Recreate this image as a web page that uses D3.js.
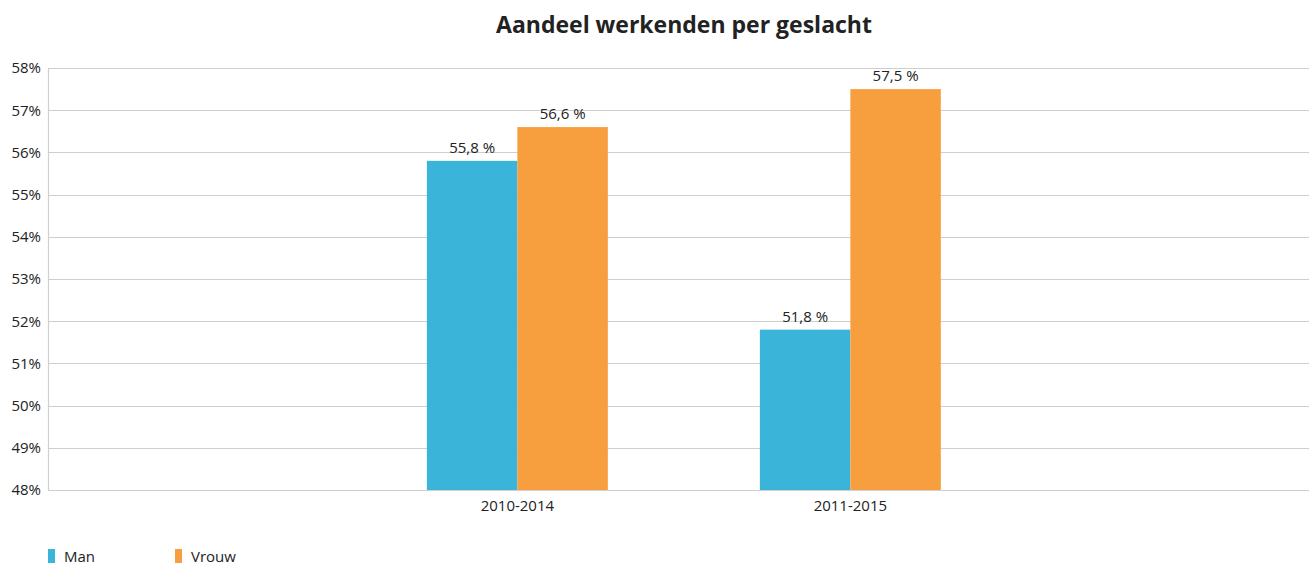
<!DOCTYPE html>
<html><head><meta charset="utf-8">
<script src="https://cdn.jsdelivr.net/npm/d3@7"></script>
<style>
body{margin:0;background:#fff;}
text{font-family:"Open Sans","Noto Sans",sans-serif;fill:#222;}
</style></head>
<body><svg id="c" width="1309" height="565"></svg>
<script>
const categories = ["2010-2014", "2011-2015"];
const seriesNames = ["Man", "Vrouw"];
const manValues = [55.8, 51.8];
const vrouwValues = [56.6, 57.5];
const yTicks = [48, 49, 50, 51, 52, 53, 54, 55, 56, 57, 58];
const colors = ["#3BB4DA", "#F79F3F"];
const title = "Aandeel werkenden per geslacht";

(function(){
const svg = d3.select("#c");
const pL = 48, pR = 1309, pT = 68, pB = 490;

const y = d3.scaleLinear().domain([48, 58]).range([pB, pT]);
const x0 = d3.scaleBand().domain(categories).range([pL, pR]).paddingInner(0).paddingOuter(0.8935).align(0.509);
const x1 = d3.scaleBand().domain(seriesNames).range([0, x0.bandwidth()]).paddingInner(0).paddingOuter(0.84);

// grid
svg.append("g").selectAll("line").data(yTicks).join("line")
  .attr("x1", pL).attr("x2", pR)
  .attr("y1", d => Math.round(y(d)) + 0.5).attr("y2", d => Math.round(y(d)) + 0.5)
  .attr("stroke", "#cfcfcf").attr("stroke-width", 1.2);
svg.append("line").attr("x1", pL + 0.5).attr("x2", pL + 0.5).attr("y1", pT).attr("y2", pB)
  .attr("stroke", "#cfcfcf").attr("stroke-width", 1.2);

// y axis labels
const yAxis = d3.axisLeft(y).tickValues(yTicks).tickFormat(d => d + "%").tickSize(0).tickPadding(7);
const ya = svg.append("g").attr("transform", `translate(${pL},0)`).call(yAxis);
ya.select(".domain").remove();
ya.selectAll("text").style("font-size", "15px").style("font-family", "'Open Sans','Noto Sans',sans-serif").attr("fill", "#222");

// x axis labels
const xAxis = d3.axisBottom(x0).tickSize(0).tickPadding(10);
const xa = svg.append("g").attr("transform", `translate(0,${pB})`).call(xAxis);
xa.select(".domain").remove();
xa.selectAll("text").style("font-size", "15px").style("font-family", "'Open Sans','Noto Sans',sans-serif").attr("fill", "#222");

// bars
const data = categories.map((c, i) => ({cat: c, vals: [
  {s: seriesNames[0], v: manValues[i], col: colors[0]},
  {s: seriesNames[1], v: vrouwValues[i], col: colors[1]}
]}));
const g = svg.append("g").selectAll("g").data(data).join("g")
  .attr("transform", d => `translate(${x0(d.cat)},0)`);
g.selectAll("rect").data(d => d.vals).join("rect")
  .attr("x", d => x1(d.s)).attr("width", x1.bandwidth())
  .attr("y", d => y(d.v)).attr("height", d => pB - y(d.v))
  .attr("fill", d => d.col);
g.selectAll("text").data(d => d.vals).join("text")
  .attr("x", d => x1(d.s) + x1.bandwidth() / 2)
  .attr("y", d => y(d.v) - 8)
  .attr("text-anchor", "middle").style("font-size", "15px")
  .text(d => d.v.toFixed(1).replace(".", ",") + " %");

// title
svg.append("text").attr("x", 684).attr("y", 33).attr("text-anchor", "middle")
  .style("font-size", "23px").style("font-weight", "bold").text(title);

// legend
const lg = svg.append("g").selectAll("g").data(seriesNames).join("g")
  .attr("transform", (d, i) => `translate(${48 + i * 127},0)`);
lg.append("rect").attr("x", 0).attr("y", 549).attr("width", 7).attr("height", 14)
  .attr("fill", (d, i) => colors[i]);
lg.append("text").attr("x", 16).attr("y", 562).style("font-size", "15px").text(d => d);
})();
</script></body></html>
